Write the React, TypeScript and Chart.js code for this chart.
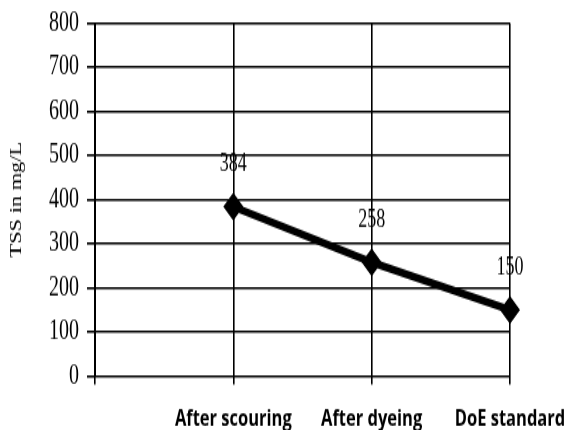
import React, { useEffect, useRef } from "react";
import { Chart, registerables } from "chart.js";

Chart.register(...registerables);

const categories: string[] = ["", "After scouring", "After dyeing", "DoE standard"];
const tssValues: (number | null)[] = [null, 384, 258, 150];
const yTicks: number[] = [0, 100, 200, 300, 400, 500, 600, 700, 800];

// The reference is vertically stretched; draw on a shorter canvas and stretch it with CSS.
const W = 566;
const H_CSS = 430;
const STRETCH = 1.4;
const H = Math.round(H_CSS / STRETCH);

const labelPlugin = {
  id: "pointLabels",
  afterDatasetsDraw(chart: any) {
    const ctx = chart.ctx;
    const meta = chart.getDatasetMeta(0);
    ctx.save();
    ctx.font = "18px 'Liberation Serif', serif";
    ctx.fillStyle = "#000";
    ctx.textAlign = "center";
    ctx.textBaseline = "middle";
    meta.data.forEach((pt: any, i: number) => {
      const v = tssValues[i];
      if (v == null) return;
      ctx.fillText(String(v), pt.x, pt.y - 30);
    });
    ctx.restore();
  },
};

export default function App() {
  const ref = useRef<HTMLCanvasElement | null>(null);
  useEffect(() => {
    if (!ref.current) return;
    const chart = new Chart(ref.current, {
      type: "line",
      data: {
        labels: categories,
        datasets: [
          {
            data: tssValues,
            borderColor: "#000",
            backgroundColor: "#000",
            borderWidth: 5.5,
            pointStyle: "rectRot",
            pointRadius: 10,
            pointHoverRadius: 10,
            pointBackgroundColor: "#000",
            pointBorderColor: "#000",
            pointBorderWidth: 0,
            tension: 0,
          },
        ],
      },
      options: {
        animation: false,
        responsive: false,
        maintainAspectRatio: false,
        devicePixelRatio: 1,
        layout: { padding: { top: 16.5, right: 56, left: 0, bottom: 0 } },
        plugins: { legend: { display: false }, tooltip: { enabled: false } },
        scales: {
          x: {
            type: "category",
            offset: false,
            grid: { color: "#000", lineWidth: 1.6, tickLength: 6, drawTicks: true, tickColor: "#000" },
            border: { display: false },
            ticks: {
              color: "#000",
              padding: 15,
              maxRotation: 0,
              autoSkip: false,
              font: { family: "'Open Sans', sans-serif", weight: "bold", size: 16.5 },
            },
            afterFit: (s: any) => {
              s.height = 38.5;
              s.paddingLeft = 0;
              s.paddingRight = 0;
            },
          },
          y: {
            min: 0,
            max: 800,
            afterBuildTicks: (s: any) => {
              s.ticks = yTicks.map((v) => ({ value: v }));
            },
            grid: { color: "#000", lineWidth: 1.6, tickLength: 8, tickColor: "#000" },
            border: { display: true, color: "#000", width: 2 },
            ticks: {
              color: "#000",
              padding: 8,
              font: { family: "'Liberation Serif', serif", size: 20 },
            },
            title: {
              display: true,
              text: "TSS in mg/L",
              color: "#000",
              padding: { top: 7, bottom: 0 },
              font: { family: "'Liberation Serif', serif", size: 16 },
            },
            afterFit: (s: any) => {
              s.width = 95;
              s.paddingTop = 0;
              s.paddingBottom = 0;
            },
          },
        },
      },
      plugins: [labelPlugin],
    } as any);
    return () => chart.destroy();
  }, []);
  return (
    <div style={{ position: "fixed", left: 0, top: 0, width: W, height: H_CSS, background: "#fff" }}>
      <canvas ref={ref} width={W} height={H} style={{ display: "block", width: W, height: H_CSS }} />
    </div>
  );
}
